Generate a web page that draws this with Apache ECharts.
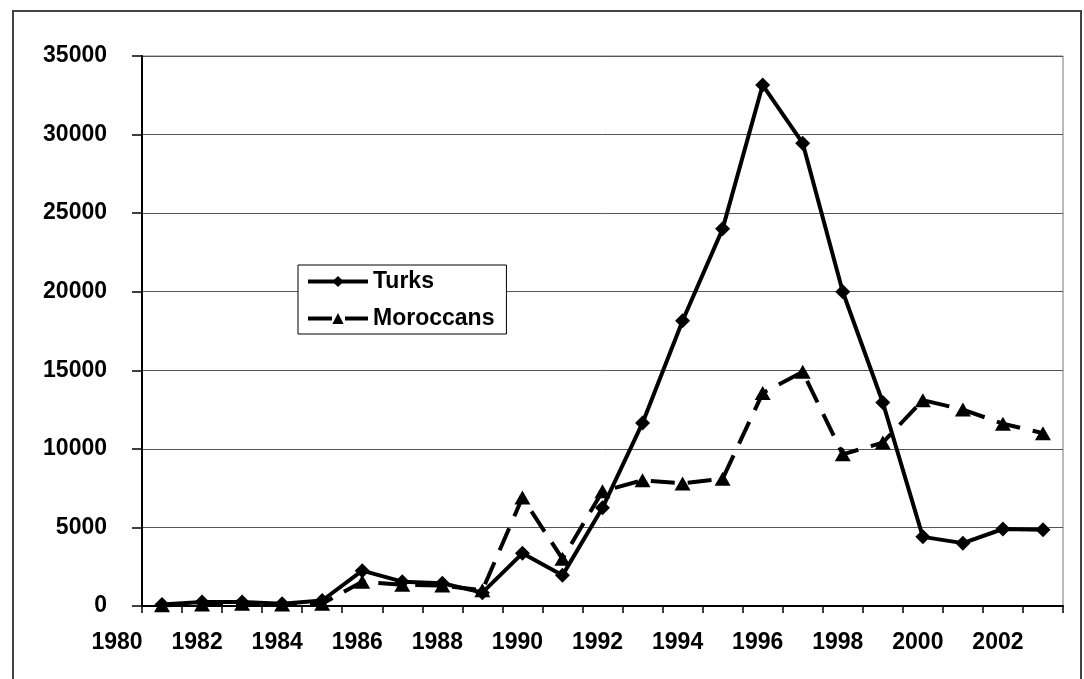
<!DOCTYPE html>
<html>
<head>
<meta charset="utf-8">
<script src="https://cdn.jsdelivr.net/npm/echarts@6/dist/echarts.min.js"></script>
<style>
  html, body { margin: 0; padding: 0; background: #fff; }
  #main { width: 1084px; height: 679px; position: relative; }
  #frame { position: absolute; left: 12px; top: 10px; width: 1066px; height: 690px;
           border: 2px solid #444; pointer-events: none; }
</style>
</head>
<body>
<div id="main"></div>
<div id="frame"></div>
<script>
// years with data, plus the label row that starts one year earlier
const years = ['1981','1982','1983','1984','1985','1986','1987','1988','1989','1990','1991','1992',
               '1993','1994','1995','1996','1997','1998','1999','2000','2001','2002','2003'];
const labelYears = ['1980'].concat(years);
const turks = [100, 250, 250, 150, 350, 2250, 1550, 1450, 850, 3350, 1950, 6250,
               11650, 18150, 24000, 33150, 29450, 20000, 12950, 4400, 4000, 4900, 4850];
const moroccans = [50, 100, 150, 100, 150, 1550, 1350, 1300, 1000, 6900, 3000, 7300,
                   8000, 7800, 8100, 13550, 14900, 9650, 10400, 13100, 12500, 11600, 11000];
const yTicks = { min: 0, max: 35000, step: 5000 };

const font = '"Liberation Sans", Arial, sans-serif';
const chart = echarts.init(document.getElementById('main'));

chart.setOption({
  animation: false,
  backgroundColor: '#fff',
  legend: {
    orient: 'vertical',
    left: 298,
    top: 265,
    padding: [5, 12, 4, 8],
    itemGap: 14,
    itemWidth: 60,
    itemHeight: 14,
    borderColor: '#000',
    borderWidth: 1,
    backgroundColor: '#fff',
    lineStyle: { width: 4 },
    textStyle: { fontFamily: font, fontWeight: 'bold', fontSize: 23, color: '#000' },
    data: ['Turks', 'Moroccans']
  },
  grid: [
    { left: 142, top: 56, right: 21, bottom: 73, show: true, borderColor: '#777', borderWidth: 1 },
    // only carries the year labels, shifted one year to the left
    { left: 102, top: 56, right: 21, bottom: 73 }
  ],
  xAxis: [
    {
      type: 'category',
      gridIndex: 0,
      data: years,
      boundaryGap: true,
      axisLine: { lineStyle: { color: '#000', width: 2 } },
      axisTick: { show: true, interval: 0, length: 7, lineStyle: { color: '#000', width: 1.5 } },
      axisLabel: { show: false },
      splitLine: { show: false }
    },
    {
      type: 'category',
      gridIndex: 1,
      data: labelYears,
      boundaryGap: true,
      axisLine: { show: false },
      axisTick: { show: false },
      splitLine: { show: false },
      axisLabel: {
        interval: (i, v) => Number(v) % 2 === 0,
        margin: 25,
        padding: [0, 10, 0, 0],
        fontFamily: font, fontWeight: 'bold', fontSize: 23, color: '#000'
      }
    }
  ],
  yAxis: [
    {
      type: 'value',
      gridIndex: 0,
      min: yTicks.min,
      max: yTicks.max,
      interval: yTicks.step,
      axisLine: { show: true, lineStyle: { color: '#000', width: 2 } },
      axisTick: { show: true, length: 10, lineStyle: { color: '#000', width: 1.5 } },
      axisLabel: {
        margin: 35,
        formatter: v => String(v),
        fontFamily: font, fontWeight: 'bold', fontSize: 23, color: '#000'
      },
      splitLine: { lineStyle: { color: '#555', width: 1 } }
    },
    { type: 'value', gridIndex: 1, show: false, min: yTicks.min, max: yTicks.max }
  ],
  series: [
    {
      name: 'Moroccans',
      type: 'line',
      xAxisIndex: 0,
      yAxisIndex: 0,
      data: moroccans,
      symbol: 'triangle',
      symbolSize: [16, 14],
      itemStyle: { color: '#000' },
      lineStyle: { color: '#000', width: 4, type: [24, 13] }
    },
    {
      name: 'Turks',
      type: 'line',
      xAxisIndex: 0,
      yAxisIndex: 0,
      data: turks,
      symbol: 'diamond',
      symbolSize: [15, 15],
      itemStyle: { color: '#000' },
      lineStyle: { color: '#000', width: 4 }
    }
  ]
});
</script>
</body>
</html>
